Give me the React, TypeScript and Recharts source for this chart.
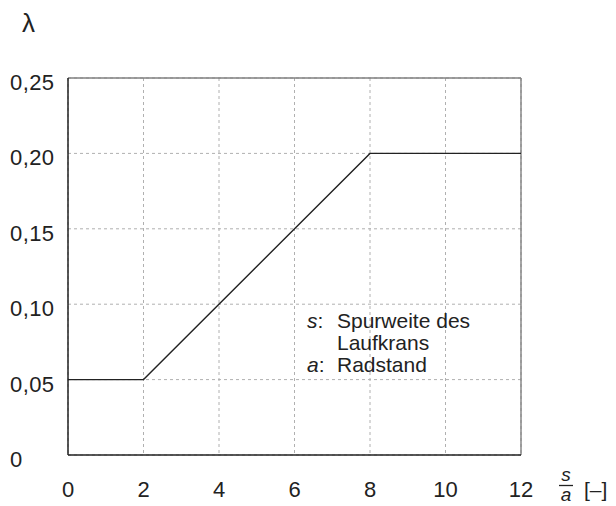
import { LineChart, Line, XAxis, YAxis, CartesianGrid, ReferenceLine } from 'recharts';

const ratioSA = [0, 2, 8, 12];
const lambdaValues = [0.05, 0.05, 0.2, 0.2];
const xTicks = [0, 2, 4, 6, 8, 10, 12];
const yTicks = [0, 0.05, 0.1, 0.15, 0.2, 0.25];

const data = ratioSA.map((x, i) => ({ x, y: lambdaValues[i] }));

const FONT = '"Liberation Sans", Arial, sans-serif';
const INK = '#222';

function fmtY(v: number) {
  return v === 0 ? '0' : v.toFixed(2).replace('.', ',');
}

function YTick({ y, payload }: any) {
  return (
    <text x={10} y={y + 12} textAnchor="start" fontFamily={FONT} fontSize={22} letterSpacing={0.4} fill={INK}>
      {fmtY(payload.value)}
    </text>
  );
}

function XTick({ x, payload }: any) {
  return (
    <text x={x} y={497} textAnchor="middle" fontFamily={FONT} fontSize={22} fill={INK}>
      {payload.value}
    </text>
  );
}

export default function App() {
  return (
    <div style={{ position: 'absolute', left: 0, top: 0, width: 616, height: 506, background: '#fff' }}>
      <LineChart width={616} height={506} data={data} margin={{ top: 78, right: 95, bottom: 0, left: 0 }}>
        <CartesianGrid stroke="#b0b0b0" strokeDasharray="3 3" />
        <XAxis
          dataKey="x"
          type="number"
          domain={[0, 12]}
          ticks={xTicks}
          height={51}
          tickLine={false}
          axisLine={{ stroke: INK, strokeWidth: 1.5 }}
          tick={<XTick />}
        />
        <YAxis
          type="number"
          domain={[0, 0.25]}
          ticks={yTicks}
          width={68}
          tickLine={false}
          axisLine={{ stroke: INK, strokeWidth: 1.5 }}
          tick={<YTick />}
        />
        <ReferenceLine y={0.25} stroke="#808080" strokeWidth={1.4} />
        <ReferenceLine x={12} stroke="#808080" strokeWidth={1.4} />
        <Line
          dataKey="y"
          type="linear"
          stroke={INK}
          strokeWidth={1.4}
          dot={false}
          activeDot={false}
          isAnimationActive={false}
        />
        <text x={22} y={32} fontFamily={FONT} fontSize={26} fill={INK}>λ</text>
        <text fontFamily={FONT} fontSize={21} fill={INK}>
          <tspan x={307} y={328} fontStyle="italic">s</tspan>
          <tspan>:</tspan>
          <tspan x={337} y={328}>Spurweite des</tspan>
          <tspan x={337} y={350}>Laufkrans</tspan>
          <tspan x={307} y={372} fontStyle="italic">a</tspan>
          <tspan>:</tspan>
          <tspan x={337} y={372}>Radstand</tspan>
        </text>
        <text x={566} y={481} textAnchor="middle" fontFamily={FONT} fontSize={19} fontStyle="italic" fill={INK}>s</text>
        <line x1={559} x2={573} y1={485.5} y2={485.5} stroke={INK} strokeWidth={1.3} />
        <text x={566} y={501} textAnchor="middle" fontFamily={FONT} fontSize={19} fontStyle="italic" fill={INK}>a</text>
        <text x={584} y={497} fontFamily={FONT} fontSize={21} fill={INK}>[–]</text>
      </LineChart>
    </div>
  );
}
